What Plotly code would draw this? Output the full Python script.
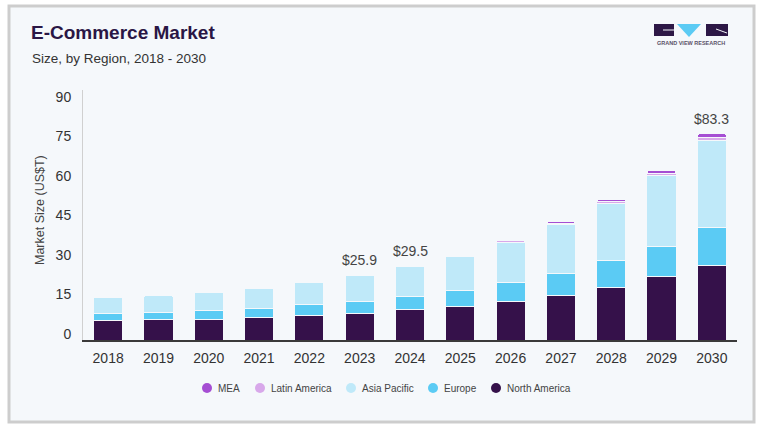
import plotly.graph_objects as go

years = ["2018", "2019", "2020", "2021", "2022", "2023", "2024",
         "2025", "2026", "2027", "2028", "2029", "2030"]
north_america = [7.3, 7.6, 7.9, 8.5, 9.4, 10.1, 11.5, 12.8, 14.7, 17.0, 20.1, 24.0, 28.4]
europe = [2.8, 2.9, 3.4, 3.4, 4.1, 4.6, 5.1, 5.9, 7.1, 8.2, 10.0, 11.4, 14.3]
asia_pacific = [6.0, 6.4, 6.8, 7.8, 8.4, 9.9, 11.2, 12.9, 15.3, 18.5, 21.8, 26.9, 32.9]
latin_america = [0.2, 0.2, 0.2, 0.2, 0.3, 0.4, 0.5, 0.5, 0.5, 0.7, 0.6, 1.0, 1.2]
mea = [0.1, 0.1, 0.1, 0.1, 0.15, 0.2, 0.3, 0.5, 0.5, 0.5, 0.9, 1.1, 1.6]

label_years = ["2023", "2024", "2030"]
label_texts = ["$25.9", "$29.5", "$83.3"]

y_ticks = [0, 15, 30, 45, 60, 75, 90]

series = [
    ("North America", north_america, "#35114A"),
    ("Europe", europe, "#5BCBF4"),
    ("Asia Pacific", asia_pacific, "#BFE9F9"),
    ("Latin America", latin_america, "#D8A8EA"),
    ("MEA", mea, "#A54ED3"),
]

# plot area in pixels
L, R, T, B = 83, 737, 90, 340
W, H = R - L, B - T


def px(x):
    return (x - L) / W


def py(y):
    return (B - y) / H


FONT = "Liberation Sans, Arial, sans-serif"

fig = go.Figure()
for name, vals, col in series:
    fig.add_trace(go.Bar(
        x=years, y=vals, name=name, marker_color=col,
        marker_line_color="#F5F8FB", marker_line_width=1,
        showlegend=False,
    ))

shapes = []
annotations = []

# card background
shapes.append(dict(type="rect", xref="paper", yref="paper",
                   x0=px(9), x1=px(754), y0=py(422), y1=py(6),
                   fillcolor="#F5F8FB", line=dict(color="#CDCDCD", width=3),
                   layer="below"))

# title
annotations.append(dict(text="<b>E-Commerce Market</b>", xref="paper", yref="paper",
                        x=px(29), y=py(32), xanchor="left", yanchor="middle",
                        showarrow=False, font=dict(family=FONT, size=19, color="#2A1645")))
annotations.append(dict(text="Size, by Region, 2018 - 2030", xref="paper", yref="paper",
                        x=px(30), y=py(58), xanchor="left", yanchor="middle",
                        showarrow=False, font=dict(family=FONT, size=13.5, color="#333333")))

# y axis title
annotations.append(dict(text="Market Size (US$T)", xref="paper", yref="paper",
                        x=px(40), y=py(210), xanchor="center", yanchor="middle",
                        textangle=-90, showarrow=False,
                        font=dict(family=FONT, size=12.5, color="#444444")))

# value labels
totals = [sum(v) for v in zip(north_america, europe, asia_pacific, latin_america, mea)]
for yr, txt in zip(label_years, label_texts):
    i = years.index(yr)
    annotations.append(dict(text=txt, x=i, y=totals[i], xref="x", yref="y",
                            yanchor="bottom", yshift=4, showarrow=False,
                            font=dict(family=FONT, size=14, color="#444444")))

# manual legend
legend_order = ["MEA", "Latin America", "Asia Pacific", "Europe", "North America"]
legend_cx = [207, 260, 351, 433, 496]
colors = {n: c for n, _, c in series}
for name, cx in zip(legend_order, legend_cx):
    shapes.append(dict(type="circle", xref="paper", yref="paper",
                       x0=px(cx - 5), x1=px(cx + 5), y0=py(393), y1=py(383),
                       fillcolor=colors[name], line=dict(width=0)))
    annotations.append(dict(text=name, xref="paper", yref="paper",
                            x=px(cx + 9), y=py(388), xanchor="left", yanchor="middle",
                            showarrow=False, font=dict(family=FONT, size=10, color="#444444")))

# logo
dark = "#2D1846"
shapes.append(dict(type="rect", xref="paper", yref="paper",
                   x0=px(654), x1=px(674), y0=py(36), y1=py(24),
                   fillcolor=dark, line=dict(width=0)))
shapes.append(dict(type="path", xref="paper", yref="paper",
                   path=f"M {px(677)},{py(24)} L {px(701)},{py(24)} L {px(689)},{py(37)} Z",
                   fillcolor="#5BCBF4", line=dict(width=0)))
shapes.append(dict(type="rect", xref="paper", yref="paper",
                   x0=px(706), x1=px(728), y0=py(36), y1=py(24),
                   fillcolor=dark, line=dict(width=0)))
shapes.append(dict(type="line", xref="paper", yref="paper",
                   x0=px(663), x1=px(674), y0=py(30), y1=py(30),
                   line=dict(color="#F5F8FB", width=1)))
shapes.append(dict(type="line", xref="paper", yref="paper",
                   x0=px(716), x1=px(727), y0=py(29), y1=py(33),
                   line=dict(color="#F5F8FB", width=1)))
annotations.append(dict(text="<b>GRAND VIEW RESEARCH</b>", xref="paper", yref="paper",
                        x=px(691), y=py(43), xanchor="center", yanchor="middle",
                        showarrow=False, font=dict(family=FONT, size=5.5, color="#5A5068")))

fig.update_layout(
    width=763, height=430,
    margin=dict(l=L, r=763 - R, t=T, b=430 - B),
    paper_bgcolor="white",
    plot_bgcolor="rgba(0,0,0,0)",
    barmode="stack",
    bargap=0.42,
    barcornerradius=3,
    showlegend=False,
    shapes=shapes,
    annotations=annotations,
    xaxis=dict(
        type="category", range=[-0.5, 12.5],
        showline=True, linecolor="#3A3A3A", linewidth=1.5,
        showgrid=False, ticks="",
        tickfont=dict(family=FONT, size=14, color="#333333"),
        ticklabelstandoff=4,
    ),
    yaxis=dict(
        range=[0, 94.9], tickvals=y_ticks,
        showline=True, linecolor="#D0D0D0", linewidth=1,
        showgrid=False, zeroline=False, ticks="",
        tickfont=dict(family=FONT, size=14, color="#333333"),
        ticklabelstandoff=8, ticklabelshift=-6,
    ),
)

fig.write_html("out.html")
